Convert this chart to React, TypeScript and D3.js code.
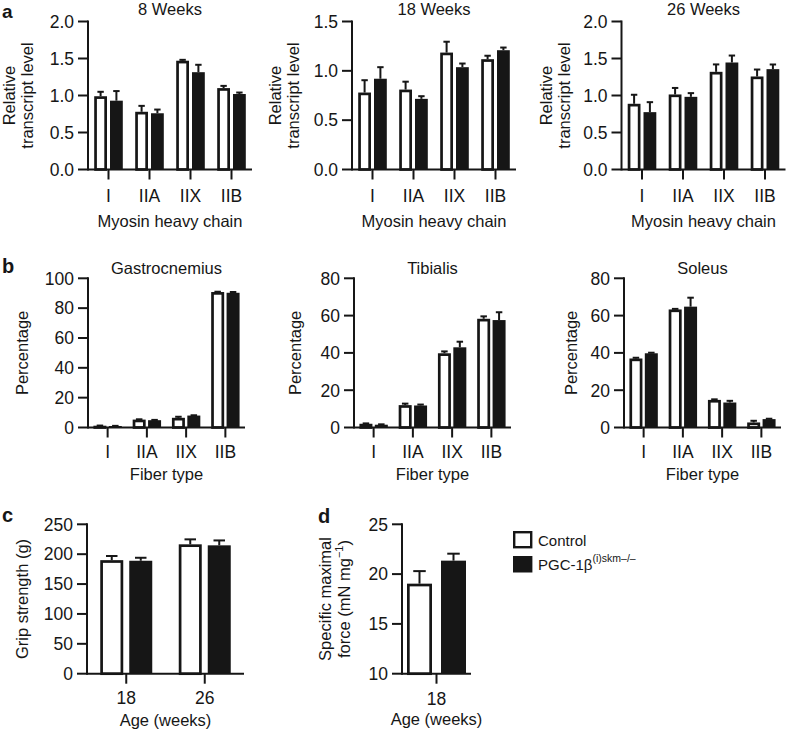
import React from 'react';
import * as d3 from 'd3';

// ---------- data ----------
const mhcCategories = ['I', 'IIA', 'IIX', 'IIB'];
const fiberCategories = ['I', 'IIA', 'IIX', 'IIB'];
const ageCategoriesC = ['18', '26'];
const ageCategoriesD = ['18'];

// a: relative transcript level
const w8Control = [0.99, 0.78, 1.47, 1.10];
const w8ControlErr = [0.06, 0.08, 0.012, 0.03];
const w8Ko = [0.93, 0.76, 1.315, 1.02];
const w8KoErr = [0.13, 0.05, 0.1, 0.02];

const w18Control = [0.78, 0.81, 1.185, 1.118];
const w18ControlErr = [0.125, 0.08, 0.11, 0.035];
const w18Ko = [0.92, 0.716, 1.037, 1.209];
const w18KoErr = [0.117, 0.027, 0.037, 0.027];

const w26Control = [0.888, 1.014, 1.32, 1.257];
const w26ControlErr = [0.122, 0.088, 0.1, 0.094];
const w26Ko = [0.775, 0.982, 1.446, 1.356];
const w26KoErr = [0.135, 0.05, 0.094, 0.063];

// b: fiber type percentage
const gastroControl = [1.2, 5.3, 6.5, 90.8];
const gastroControlErr = [0.1, 0.2, 0.7, 0.2];
const gastroKo = [1.0, 4.9, 8.0, 90.3];
const gastroKoErr = [0.1, 0.2, 0.2, 0.5];

const tibControl = [2.0, 12.0, 39.8, 58.3];
const tibControlErr = [0.2, 0.8, 1.0, 1.3];
const tibKo = [1.5, 11.8, 43.0, 57.6];
const tibKoErr = [0.2, 0.5, 3.0, 4.2];

const solControl = [37.0, 63.3, 14.8, 2.7];
const solControlErr = [0.4, 0.3, 0.3, 0.9];
const solKo = [39.8, 64.8, 13.4, 4.5];
const solKoErr = [0.3, 4.8, 0.9, 0.2];

// c: grip strength
const gripControl = [190, 216.5];
const gripControlErr = [7, 8.3];
const gripKo = [189, 214.8];
const gripKoErr = [5, 8.2];

// d: specific maximal force
const forceControl = [19.04];
const forceControlErr = [1.26];
const forceKo = [21.35];
const forceKoErr = [0.7];

const legendLabels = ['Control', 'PGC-1β'];
const legendSuperscript = '(i)skm–/–';

// ---------- styles ----------
const FONT = '"Liberation Sans", Arial, Helvetica, sans-serif';
const FS = 16.5;
const TFS = 17.5;
const INK = '#161616';

type PanelProps = {
  axisX: number;
  top: number;
  bottom: number;
  width: number;
  domain: [number, number];
  ticks: number[];
  fmt: (v: number) => string;
  categories: string[];
  ctrl: number[];
  ctrlErr: number[];
  ko: number[];
  koErr: number[];
  barW: number;
  gap: number;
  title?: string;
  titleY?: number;
  tickLabelY: number;
  xLabel: string;
  xLabelY: number;
  yLabels: { text: React.ReactNode; dx: number }[];
};

function BarPanel(p: PanelProps) {
  const y = d3.scaleLinear().domain(p.domain).range([p.bottom, p.top]);
  const x = d3.scaleBand<string>().domain(p.categories).range([p.axisX, p.axisX + p.width]).padding(0);
  const y0 = y(p.domain[0]);
  const sw = 2.7;
  const capW = p.barW * 0.5;
  const midY = (p.top + p.bottom) / 2;
  const elems: React.ReactNode[] = [];

  p.categories.forEach((c, i) => {
    const cx = (x(c) as number) + x.bandwidth() / 2;
    const cL = cx - p.gap / 2 - p.barW;
    const cv = y(p.ctrl[i]);
    const ce = y(p.ctrl[i] + p.ctrlErr[i]);
    const ccx = cL + p.barW / 2;
    elems.push(
      <g key={'c' + i}>
        <line x1={ccx} x2={ccx} y1={cv} y2={ce} stroke={INK} strokeWidth={2} />
        <line x1={ccx - capW / 2} x2={ccx + capW / 2} y1={ce} y2={ce} stroke={INK} strokeWidth={2} />
        <rect x={cL + sw / 2} y={cv + sw / 2} width={p.barW - sw} height={Math.max(0, y0 - cv - sw / 2)} fill="#fff" stroke={INK} strokeWidth={sw} />
      </g>
    );
    const kL = cx + p.gap / 2;
    const kv = y(p.ko[i]);
    const ke = y(p.ko[i] + p.koErr[i]);
    const kcx = kL + p.barW / 2;
    elems.push(
      <g key={'k' + i}>
        <line x1={kcx} x2={kcx} y1={kv} y2={ke} stroke={INK} strokeWidth={2} />
        <line x1={kcx - capW / 2} x2={kcx + capW / 2} y1={ke} y2={ke} stroke={INK} strokeWidth={2} />
        <rect x={kL} y={kv} width={p.barW} height={Math.max(0, y0 - kv)} fill={INK} />
      </g>
    );
    elems.push(
      <g key={'t' + i}>
        <line x1={cx} x2={cx} y1={y0} y2={y0 + 10} stroke={INK} strokeWidth={2} />
        <text x={cx} y={p.tickLabelY} textAnchor="middle" fontSize={TFS} fontFamily={FONT} fill={INK}>{c}</text>
      </g>
    );
  });

  return (
    <g>
      {p.title && (
        <text x={p.axisX + p.width / 2} y={p.titleY} textAnchor="middle" fontSize={FS} fontFamily={FONT} fill={INK}>{p.title}</text>
      )}
      {elems}
      <line x1={p.axisX} x2={p.axisX} y1={p.top - 1} y2={y0 + 1} stroke={INK} strokeWidth={2} />
      <line x1={p.axisX} x2={p.axisX + p.width} y1={y0} y2={y0} stroke={INK} strokeWidth={2} />
      {p.ticks.map((t) => (
        <g key={'yt' + t}>
          <line x1={p.axisX - 10} x2={p.axisX} y1={y(t)} y2={y(t)} stroke={INK} strokeWidth={2} />
          <text x={p.axisX - 14} y={y(t)} dy="0.36em" textAnchor="end" fontSize={TFS} fontFamily={FONT} fill={INK}>{p.fmt(t)}</text>
        </g>
      ))}
      <text x={p.axisX + p.width / 2} y={p.xLabelY} textAnchor="middle" fontSize={FS} fontFamily={FONT} fill={INK}>{p.xLabel}</text>
      {p.yLabels.map((l, i) => (
        <text key={'yl' + i} transform={`translate(${p.axisX + l.dx},${midY}) rotate(-90)`} textAnchor="middle" fontSize={FS} fontFamily={FONT} fill={INK}>{l.text}</text>
      ))}
    </g>
  );
}

const f1 = d3.format('.1f');
const f0 = d3.format('d');

export default function App() {
  const aCommon = {
    top: 21.5, bottom: 169.5, width: 164, categories: mhcCategories,
    barW: 12.8, gap: 3, titleY: 15, tickLabelY: 202, xLabel: 'Myosin heavy chain', xLabelY: 227, fmt: f1,
  };
  const bCommon = {
    top: 278.3, bottom: 427.5, width: 157, categories: fiberCategories,
    barW: 13, gap: 2.4, titleY: 274, tickLabelY: 458, xLabel: 'Fiber type', xLabelY: 480, fmt: f0,
  };
  return (
    <div style={{ position: 'absolute', left: 0, top: 0 }}>
      <svg width={788} height={729} style={{ display: 'block', background: '#fff' }}>
        <text x={2} y={17.5} fontSize={19} fontWeight="bold" fontFamily={FONT} fill={INK}>a</text>
        <text x={2} y={273} fontSize={20} fontWeight="bold" fontFamily={FONT} fill={INK}>b</text>
        <text x={2} y={522} fontSize={20} fontWeight="bold" fontFamily={FONT} fill={INK}>c</text>
        <text x={318} y={523} fontSize={20} fontWeight="bold" fontFamily={FONT} fill={INK}>d</text>

        <BarPanel {...aCommon} axisX={88} domain={[0, 2]} ticks={[0, 0.5, 1, 1.5, 2]} title="8 Weeks"
          ctrl={w8Control} ctrlErr={w8ControlErr} ko={w8Ko} koErr={w8KoErr}
          yLabels={[{ text: 'Relative', dx: -73 }, { text: 'transcript level', dx: -55 }]} />
        <BarPanel {...aCommon} axisX={352} domain={[0, 1.5]} ticks={[0, 0.5, 1, 1.5]} title="18 Weeks"
          ctrl={w18Control} ctrlErr={w18ControlErr} ko={w18Ko} koErr={w18KoErr}
          yLabels={[{ text: 'Relative', dx: -71 }, { text: 'transcript level', dx: -53 }]} />
        <BarPanel {...aCommon} axisX={621.5} domain={[0, 2]} ticks={[0, 0.5, 1, 1.5, 2]} title="26 Weeks"
          ctrl={w26Control} ctrlErr={w26ControlErr} ko={w26Ko} koErr={w26KoErr}
          yLabels={[{ text: 'Relative', dx: -70 }, { text: 'transcript level', dx: -52 }]} />

        <BarPanel {...bCommon} axisX={88} domain={[0, 100]} ticks={[0, 20, 40, 60, 80, 100]} title="Gastrocnemius"
          ctrl={gastroControl} ctrlErr={gastroControlErr} ko={gastroKo} koErr={gastroKoErr}
          yLabels={[{ text: 'Percentage', dx: -60 }]} />
        <BarPanel {...bCommon} axisX={354} domain={[0, 80]} ticks={[0, 20, 40, 60, 80]} title="Tibialis"
          ctrl={tibControl} ctrlErr={tibControlErr} ko={tibKo} koErr={tibKoErr}
          yLabels={[{ text: 'Percentage', dx: -53 }]} />
        <BarPanel {...bCommon} axisX={624} domain={[0, 80]} ticks={[0, 20, 40, 60, 80]} title="Soleus"
          ctrl={solControl} ctrlErr={solControlErr} ko={solKo} koErr={solKoErr}
          yLabels={[{ text: 'Percentage', dx: -47 }]} />

        <BarPanel axisX={87} top={524.3} bottom={673.7} width={157} domain={[0, 250]} ticks={[0, 50, 100, 150, 200, 250]} fmt={f0}
          categories={ageCategoriesC} ctrl={gripControl} ctrlErr={gripControlErr} ko={gripKo} koErr={gripKoErr}
          barW={23} gap={6} tickLabelY={704} xLabel="Age (weeks)" xLabelY={726}
          yLabels={[{ text: 'Grip strength (g)', dx: -59 }]} />

        <BarPanel axisX={402} top={524.3} bottom={673.7} width={69} domain={[10, 25]} ticks={[10, 15, 20, 25]} fmt={f0}
          categories={ageCategoriesD} ctrl={forceControl} ctrlErr={forceControlErr} ko={forceKo} koErr={forceKoErr}
          barW={25} gap={9} tickLabelY={705} xLabel="Age (weeks)" xLabelY={725}
          yLabels={[
            { text: 'Specific maximal', dx: -71 },
            { text: <>force (mN mg<tspan dy={-7} fontSize={11}>−1</tspan><tspan dy={7}>)</tspan></>, dx: -52 },
          ]} />

        <rect x={514.2} y={532.2} width={17} height={15} fill="#fff" stroke={INK} strokeWidth={2.4} />
        <text x={538} y={546} fontSize={15} fontFamily={FONT} fill={INK}>{legendLabels[0]}</text>
        <rect x={513} y={556} width={19.4} height={16.5} fill={INK} />
        <text x={538} y={570} fontSize={15} fontFamily={FONT} fill={INK}>
          {legendLabels[1]}<tspan dy={-8} fontSize={10.5}>{legendSuperscript}</tspan>
        </text>
      </svg>
    </div>
  );
}
